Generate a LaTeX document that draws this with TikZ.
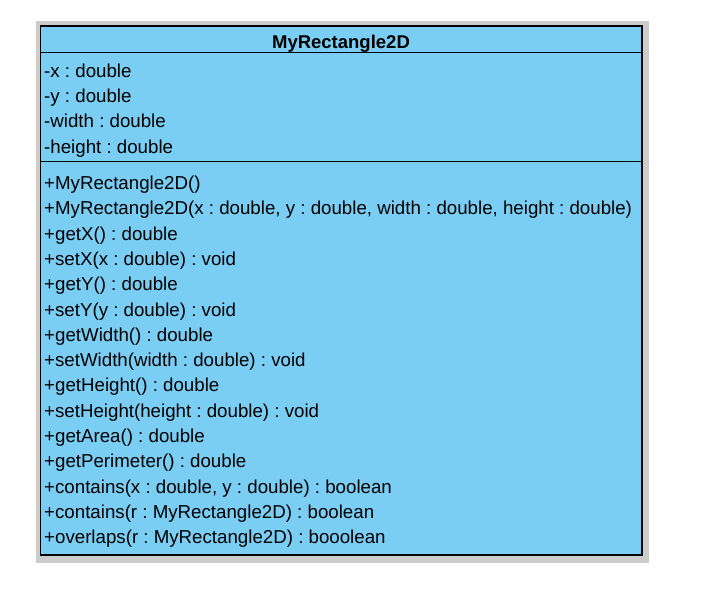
\documentclass[tikz,border=0pt]{standalone}
\usepackage{fontspec}
\setmainfont{Liberation Sans}
\frenchspacing
\definecolor{umlblue}{RGB}{122,206,244}
\definecolor{shadowgray}{RGB}{204,204,204}
\begin{document}
\begin{tikzpicture}[x=1pt,y=-1pt,
  line/.style={anchor=base west,inner sep=0pt,font=\fontsize{18.7}{22}\selectfont\frenchspacing},
  title/.style={anchor=base,inner sep=0pt,font=\fontsize{18.5}{22}\selectfont\bfseries}]
\useasboundingbox (0,0) rectangle (702,592);
\fill[shadowgray] (36,21) rectangle (649,563);
\filldraw[fill=umlblue,draw=black,line width=1.5pt] (40.5,26) rectangle (642,555);
\draw[line width=1pt] (40.5,52.5) -- (642,52.5);
\draw[line width=1pt] (40.5,161.5) -- (642,161.5);
\node[title] (t) at (341,48) {MyRectangle2D};
\node[line] (a1) at (44,77) {-x : double};
\node[line] (a2) at (44,102.3) {-y : double};
\node[line] (a3) at (44,127.6) {-width : double};
\node[line] (a4) at (44,153) {-height : double};
\foreach \t [count=\i from 0] in {
  {+MyRectangle2D()},
  {+MyRectangle2D(x : double, y : double, width : double, height : double)},
  {+getX() : double},
  {+setX(x : double) : void},
  {+getY() : double},
  {+setY(y : double) : void},
  {+getWidth() : double},
  {+setWidth(width : double) : void},
  {+getHeight() : double},
  {+setHeight(height : double) : void},
  {+getArea() : double},
  {+getPerimeter() : double},
  {+contains(x : double, y : double) : boolean},
  {+contains(r : MyRectangle2D) : boolean},
  {+overlaps(r : MyRectangle2D) : booolean}}
  \node[line] (m\i) at (44,189.5+25.3*\i) {\t};
\end{tikzpicture}
\end{document}
